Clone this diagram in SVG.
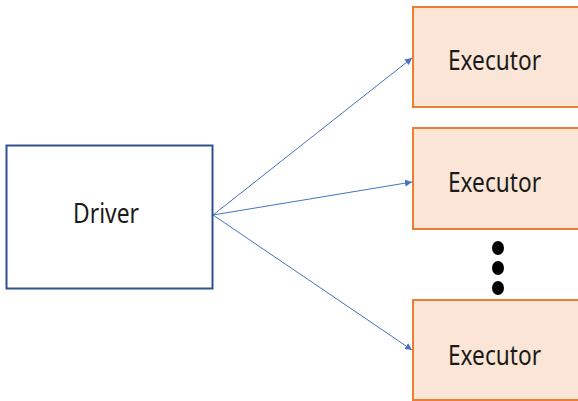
<svg xmlns="http://www.w3.org/2000/svg" width="578" height="401" viewBox="0 0 578 401">
  <style>
    .label { font-family: "Noto Sans", "Open Sans", sans-serif; font-size: 27px; fill: #1a1a1a; }
    .exec rect { fill: #FBE5D6; stroke: #ED7D31; stroke-width: 2; }
    .link { stroke: #4472C4; stroke-width: 1; fill: none; marker-end: url(#arrow); }
  </style>
  <defs>
    <marker id="arrow" viewBox="0 0 10 10" refX="10" refY="5" markerWidth="7" markerHeight="7" orient="auto" markerUnits="userSpaceOnUse">
      <path d="M0,0 L10,5 L0,10 z" fill="#4472C4"/>
    </marker>
  </defs>
  <rect width="578" height="401" fill="#fff"/>

  <g id="connectors">
    <line class="link" x1="213" y1="215" x2="412" y2="58"/>
    <line class="link" x1="213" y1="215" x2="412" y2="182"/>
    <line class="link" x1="213" y1="215" x2="412" y2="350"/>
  </g>

  <g id="driver">
    <rect x="6.5" y="145.5" width="206" height="143" fill="#fff" stroke="#2F528F" stroke-width="2"/>
    <text class="label" x="73" y="223" textLength="66" lengthAdjust="spacingAndGlyphs">Driver</text>
  </g>

  <g id="executor1" class="exec">
    <rect x="413" y="7" width="170" height="100"/>
    <text class="label" x="448" y="70" textLength="93" lengthAdjust="spacingAndGlyphs">Executor</text>
  </g>

  <g id="executor2" class="exec">
    <rect x="413" y="128" width="170" height="101"/>
    <text class="label" x="448" y="192" textLength="93" lengthAdjust="spacingAndGlyphs">Executor</text>
  </g>

  <g id="ellipsis">
    <ellipse cx="498" cy="248" rx="6" ry="7" fill="#000"/>
    <ellipse cx="498" cy="268" rx="6" ry="7" fill="#000"/>
    <ellipse cx="498" cy="288" rx="6" ry="7" fill="#000"/>
  </g>

  <g id="executor3" class="exec">
    <rect x="413" y="300" width="170" height="100"/>
    <text class="label" x="448" y="365" textLength="93" lengthAdjust="spacingAndGlyphs">Executor</text>
  </g>
</svg>
